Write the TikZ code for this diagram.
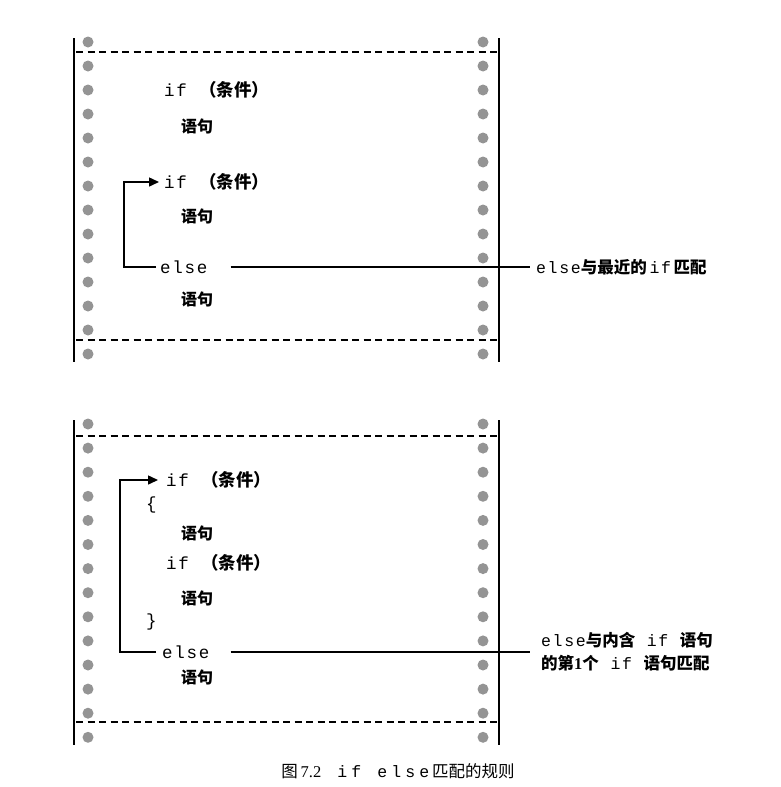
\documentclass[tikz,border=0pt]{standalone}
\usepackage{fontspec}
\setmainfont{Liberation Serif}
\setmonofont{Liberation Mono}[LetterSpace=10]
\newfontfamily\cjk{Noto Sans CJK SC}
\newfontfamily\widemono{Liberation Mono}[LetterSpace=25]
\usetikzlibrary{arrows.meta}
\newcommand\condtxt{{\cjk\bfseries （条件）}}
\tikzset{
  code/.style={anchor=west, inner sep=0pt, font=\fontsize{17.5}{20}\selectfont\ttfamily},
  stmt/.style={anchor=west, inner sep=0pt, font=\fontsize{16}{19}\selectfont\cjk\bfseries},
  note/.style={anchor=west, inner sep=0pt, align=left, font=\fontsize{16.5}{23}\selectfont\ttfamily},
  border/.style={line width=2pt},
  sepline/.style={line width=1.4pt, dash pattern=on 7pt off 4.5pt},
  hole/.style={fill=black!42},
  conn/.style={line width=1.5pt},
  arr/.style={conn, -{Triangle[length=10pt,width=9pt]}},
}
\begin{document}
\begin{tikzpicture}[x=1pt,y=-1pt]
\useasboundingbox (0,0) rectangle (781,787);
% ---------- top panel ----------
\draw[border] (74,38) -- (74,362);
\draw[border] (499,38) -- (499,362);
\draw[sepline] (76,52) -- (497,52);
\draw[sepline] (76,340) -- (497,340);
\foreach \k in {0,...,13} {
  \fill[hole] (88,42+24*\k) circle (5.5);
  \fill[hole] (483,42+24*\k) circle (5.5);
}
\node[code] (i1) at (164,90) {if \condtxt};
\node[stmt] (s1) at (181,126) {语句};
\node[code] (i2) at (164,182) {if \condtxt};
\node[stmt] (s2) at (181,216) {语句};
\node[code] (e1) at (160,267) {else};
\node[stmt] (s3) at (181,299) {语句};
\coordinate (b1) at (124,267);
\node[note] (l1) at (536,267) {else{\cjk\bfseries 与最近的}\,if\,{\cjk\bfseries 匹配}};
\draw[arr] ([xshift=-4pt]e1.west) -- (e1.west -| b1) |- ([xshift=-5pt]i2.west);
\draw[conn] ([xshift=23pt]e1.east) -- ([xshift=-6pt]l1.west);
% ---------- bottom panel ----------
\draw[border] (74,420) -- (74,745);
\draw[border] (499,420) -- (499,745);
\draw[sepline] (76,436) -- (497,436);
\draw[sepline] (76,722) -- (497,722);
\foreach \k in {0,...,13} {
  \fill[hole] (88,424+24.1*\k) circle (5.5);
  \fill[hole] (483,424+24.1*\k) circle (5.5);
}
\node[code] (i3) at (166,480) {if \condtxt};
\node[code] (o1) at (146,505) {\{};
\node[stmt] (s4) at (181,533) {语句};
\node[code] (i4) at (166,563) {if \condtxt};
\node[stmt] (s5) at (181,598) {语句};
\node[code] (o2) at (146,622) {\}};
\node[code] (e2) at (162,652) {else};
\node[stmt] (s6) at (181,677) {语句};
\coordinate (b2) at (120,652);
\node[note] (l2) at (541,652) {else{\cjk\bfseries 与内含}~if~{\cjk\bfseries 语句}\\{\cjk\bfseries 的第}{\bfseries\rmfamily 1}{\cjk\bfseries 个}~if~{\cjk\bfseries 语句匹配}};
\draw[arr] ([xshift=-6pt]e2.west) -- (e2.west -| b2) |- ([xshift=-8pt]i3.west);
\draw[conn] ([xshift=21pt]e2.east) -- ([xshift=-11pt]l2.west);
% ---------- caption ----------
\node[inner sep=0pt, font=\fontsize{16.5}{18}\selectfont] (cap) at (398,771)
  {{\cjk 图}\,7.2\hspace{16pt}{\widemono if}\hspace{16pt}{\widemono else}\,{\cjk 匹配的规则}};
\end{tikzpicture}
\end{document}
